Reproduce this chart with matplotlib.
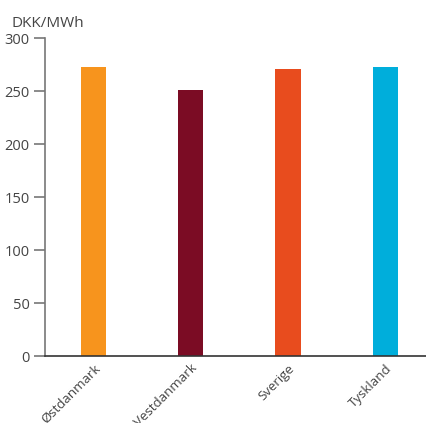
import matplotlib
matplotlib.use("Agg")
import matplotlib.pyplot as plt

regions = ["Østdanmark", "Vestdanmark", "Sverige", "Tyskland"]
prices = [273, 251, 271, 273]
colors = ["#F7941D", "#7B0C24", "#E84C1E", "#00AEDB"]
yticks = [0, 50, 100, 150, 200, 250, 300]

plt.rcParams['font.family'] = ['Open Sans', 'DejaVu Sans']

fig = plt.figure(figsize=(4.27, 4.23), dpi=100)
ax = fig.add_axes([0.105, 0.158, 0.895, 0.752])

x = range(len(regions))
ax.bar(x, prices, width=0.26, color=colors, zorder=2)

ax.set_xlim(-0.5, 3.43)
ax.set_ylim(0, 300)
ax.set_yticks(yticks)
ax.set_xticks(list(x))
ax.set_xticklabels(regions, rotation=45, ha="right", rotation_mode="anchor",
                   fontsize=9.5, color="#444444")
ax.tick_params(axis="x", length=0, pad=4)
ax.tick_params(axis="y", direction="out", length=8, width=1.2,
               color="#777777", labelsize=10.5, labelcolor="#444444", pad=3)

for s in ["top", "right"]:
    ax.spines[s].set_visible(False)
ax.spines["left"].set_color("#777777")
ax.spines["left"].set_linewidth(1.2)
ax.spines["bottom"].set_color("#333333")
ax.spines["bottom"].set_linewidth(1.2)

fig.text(0.028, 0.937, "DKK/MWh", fontsize=11, color="#444444", ha="left", va="baseline")

fig.savefig("out.png", dpi=100)
